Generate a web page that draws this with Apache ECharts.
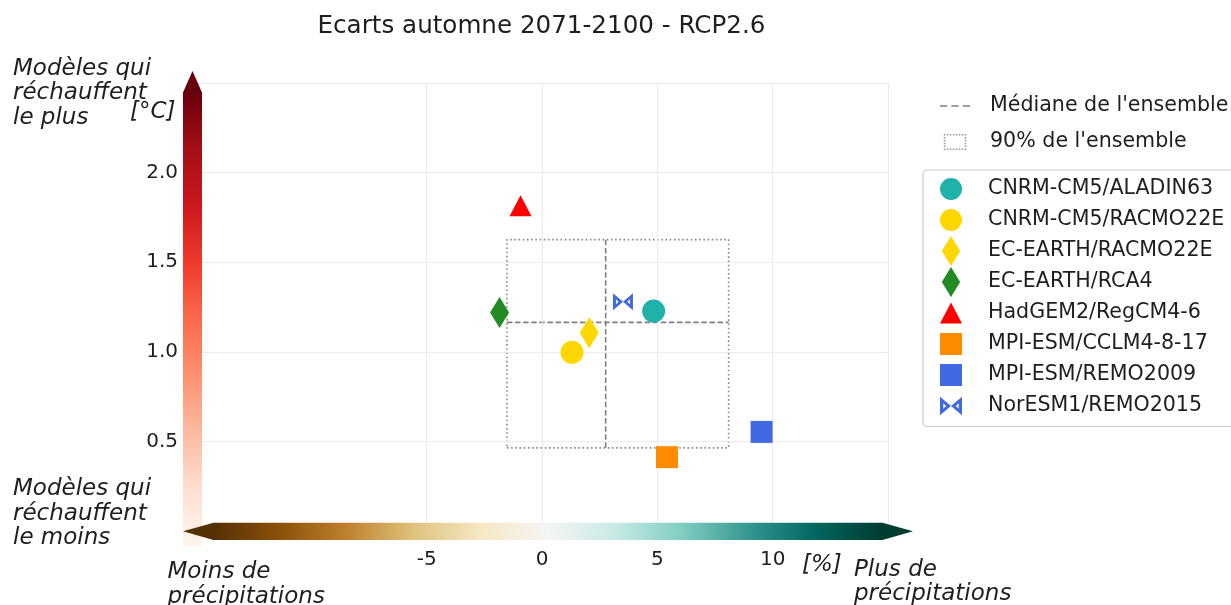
<!DOCTYPE html>
<html>
<head>
<meta charset="utf-8">
<script src="https://cdn.jsdelivr.net/npm/echarts@6/dist/echarts.min.js"></script>
<style>
  html, body { margin: 0; padding: 0; background: #ffffff; }
  #chart { width: 1231px; height: 605px; }
</style>
</head>
<body>
<div id="chart"></div>
<script>
// ---- Data -----------------------------------------------------------------
const modelNames = [
  'CNRM-CM5/ALADIN63',
  'CNRM-CM5/RACMO22E',
  'EC-EARTH/RACMO22E',
  'EC-EARTH/RCA4',
  'HadGEM2/RegCM4-6',
  'MPI-ESM/CCLM4-8-17',
  'MPI-ESM/REMO2009',
  'NorESM1/REMO2015'
];
// precipitation change [%] (x) and temperature change [°C] (y)
const precipChange = [4.84, 1.30, 2.05, -1.84, -0.93, 5.42, 9.52, 3.51];
const tempChange   = [1.227, 0.997, 1.107, 1.219, 1.815, 0.412, 0.553, 1.279];
const modelColors  = ['#20b2aa', '#ffd700', '#ffd700', '#228b22', '#ff0000', '#ff8c00', '#4169e1', '#4169e1'];
const modelShapes  = ['circle', 'circle', 'diamond', 'diamond', 'triangle', 'square', 'square', 'bowtie'];

// ensemble statistics: [precip, temp]
const ensembleMedian = [2.76, 1.164];
const ensembleLow    = [-1.52, 0.464];   // 5th percentile
const ensembleHigh   = [8.09, 1.626];    // 95th percentile

const medianLabel = 'Médiane de l\'ensemble';
const rangeLabel  = '90% de l\'ensemble';

const xTickLabels = [-5, 0, 5, 10];
const yTickLabels = [0.5, 1.0, 1.5, 2.0];
const xGridValues = [-5, 0, 5, 10, 15];
const yGridValues = [0.5, 1.0, 1.5, 2.0, 2.5];

// ---- Styling ----------------------------------------------------------------
const FONT = 'DejaVu Sans';
const TEXT_COLOR = '#1e1e1e';

const SHAPES = {
  circle:   { symbol: 'circle', size: 23 },
  diamond:  { symbol: 'path://M9.5,0L19,15.5L9.5,31L0,15.5Z', size: [19, 31] },
  triangle: { symbol: 'path://M11,0L22,21L0,21Z', size: [22, 21] },
  square:   { symbol: 'path://M0,0H22V22H0Z', size: 22 },
  bowtie:   { symbol: 'path://M0,0L10,8.5L0,17Z M3,6L3,11L5.6,8.5Z M20,0L20,17L10,8.5Z M17,6L14.4,8.5L17,11Z', size: [20, 17] }
};

// matplotlib "Reds" and "BrBG" colour maps
const REDS = ['#fff5f0', '#fee0d2', '#fcbba1', '#fc9272', '#fb6a4a', '#ef3b2c', '#cb181d', '#a50f15', '#67000d'];
const BRBG = ['#543005', '#8c510a', '#bf812d', '#dfc27d', '#f6e8c3', '#f5f5f5', '#c7eae5', '#80cdc1', '#35978f', '#01665e', '#003c30'];

function stops(colors) {
  return colors.map((c, i) => ({ offset: i / (colors.length - 1), color: c }));
}

// legend glyphs for the ensemble entries
const dashIcon = 'path://M0,0h7v1.6h-7z M11,0h7v1.6h-7z M22,0h7v1.6h-7z';
function dottedRectIcon(w, h, nx, ny, d) {
  let p = '';
  for (let i = 0; i < nx; i++) {
    const x = (i * (w - d) / (nx - 1)).toFixed(2);
    p += 'M' + x + ',0h' + d + 'v' + d + 'h-' + d + 'z ';
    p += 'M' + x + ',' + (h - d) + 'h' + d + 'v' + d + 'h-' + d + 'z ';
  }
  for (let j = 1; j < ny - 1; j++) {
    const y = (j * (h - d) / (ny - 1)).toFixed(2);
    p += 'M0,' + y + 'h' + d + 'v' + d + 'h-' + d + 'z ';
    p += 'M' + (w - d) + ',' + y + 'h' + d + 'v' + d + 'h-' + d + 'z ';
  }
  return 'path://' + p;
}

// ---- Layout -----------------------------------------------------------------
const GRID = { left: 196, top: 83, right: 888, bottom: 531 };
const VBAR = { x0: 183, x1: 202, top: 92, tip: 71, bottom: 547 };
const HBAR = { y0: 522.7, y1: 540, left: 213, right: 883, tipL: 183, tipR: 913 };

// ---- Series -----------------------------------------------------------------
const series = [];

// background grid lines
series.push({
  type: 'line',
  data: [],
  silent: true,
  z: 1,
  markLine: {
    silent: true,
    symbol: ['none', 'none'],
    label: { show: false },
    animation: false,
    lineStyle: { color: '#ebebeb', width: 1.2, type: 'solid' },
    emphasis: { disabled: true },
    data: xGridValues.map(v => ({ xAxis: v })).concat(yGridValues.map(v => ({ yAxis: v })))
  }
});

// ensemble 90% box
series.push({
  name: rangeLabel,
  type: 'line',
  symbol: 'none',
  z: 3,
  silent: true,
  color: '#888888',
  lineStyle: { color: '#888888', width: 1.6, type: [1.6, 2.6] },
  data: [
    [ensembleLow[0], ensembleLow[1]],
    [ensembleHigh[0], ensembleLow[1]],
    [ensembleHigh[0], ensembleHigh[1]],
    [ensembleLow[0], ensembleHigh[1]],
    [ensembleLow[0], ensembleLow[1]]
  ]
});

// ensemble medians (vertical and horizontal)
series.push({
  name: medianLabel,
  type: 'line',
  symbol: 'none',
  z: 3,
  silent: true,
  color: '#808080',
  lineStyle: { color: '#808080', width: 1.6, type: [5.5, 2.6] },
  data: [[ensembleMedian[0], ensembleLow[1]], [ensembleMedian[0], ensembleHigh[1]]]
});
series.push({
  name: medianLabel,
  type: 'line',
  symbol: 'none',
  z: 3,
  silent: true,
  color: '#808080',
  lineStyle: { color: '#808080', width: 1.6, type: [5.5, 2.6] },
  data: [[ensembleLow[0], ensembleMedian[1]], [ensembleHigh[0], ensembleMedian[1]]]
});

// models
modelNames.forEach((name, i) => {
  const shape = SHAPES[modelShapes[i]];
  series.push({
    name: name,
    type: 'scatter',
    z: 5,
    symbol: shape.symbol,
    symbolSize: shape.size,
    itemStyle: { color: modelColors[i], opacity: 1 },
    emphasis: { disabled: true },
    data: [[precipChange[i], tempChange[i]]]
  });
});

// ---- Decorations (colour bars, annotations, title) ---------------------------
const italic = { fontFamily: FONT, fontStyle: 'italic', fontSize: 23, fill: TEXT_COLOR, lineHeight: 24.5 };

const graphic = [
  // temperature colour bar (vertical)
  {
    type: 'rect', z: 50, silent: true,
    shape: { x: VBAR.x0, y: VBAR.top, width: VBAR.x1 - VBAR.x0, height: VBAR.bottom - VBAR.top },
    style: { fill: { type: 'linear', x: 0, y: 1, x2: 0, y2: 0, colorStops: stops(REDS) } }
  },
  {
    type: 'polygon', z: 50, silent: true,
    shape: { points: [[VBAR.x0, VBAR.top + 0.5], [VBAR.x1, VBAR.top + 0.5], [(VBAR.x0 + VBAR.x1) / 2, VBAR.tip]] },
    style: { fill: REDS[REDS.length - 1] }
  },
  // precipitation colour bar (horizontal)
  {
    type: 'rect', z: 51, silent: true,
    shape: { x: HBAR.left, y: HBAR.y0, width: HBAR.right - HBAR.left, height: HBAR.y1 - HBAR.y0 },
    style: { fill: { type: 'linear', x: 0, y: 0, x2: 1, y2: 0, colorStops: stops(BRBG) } }
  },
  {
    type: 'polygon', z: 51, silent: true,
    shape: { points: [[HBAR.left + 0.5, HBAR.y0], [HBAR.left + 0.5, HBAR.y1], [HBAR.tipL, (HBAR.y0 + HBAR.y1) / 2]] },
    style: { fill: BRBG[0] }
  },
  {
    type: 'polygon', z: 51, silent: true,
    shape: { points: [[HBAR.right - 0.5, HBAR.y0], [HBAR.right - 0.5, HBAR.y1], [HBAR.tipR, (HBAR.y0 + HBAR.y1) / 2]] },
    style: { fill: BRBG[BRBG.length - 1] }
  },
  // title
  {
    type: 'text', z: 60, x: 541.5, y: 27,
    style: { text: 'Ecarts automne 2071-2100 - RCP2.6', fontFamily: FONT, fontSize: 24.6, fill: TEXT_COLOR,
             textAlign: 'center', textVerticalAlign: 'middle' }
  },
  // axis annotations
  { type: 'text', z: 60, x: 13, y: 56.75,
    style: Object.assign({ text: 'Modèles qui\nréchauffent\nle plus', textVerticalAlign: 'top' }, italic) },
  { type: 'text', z: 60, x: 130, y: 112,
    style: Object.assign({ text: '[°C]', textVerticalAlign: 'middle' }, italic) },
  { type: 'text', z: 60, x: 13, y: 477,
    style: Object.assign({ text: 'Modèles qui\nréchauffent\nle moins', textVerticalAlign: 'top' }, italic) },
  { type: 'text', z: 60, x: 167.5, y: 560.25,
    style: Object.assign({ text: 'Moins de\nprécipitations', textVerticalAlign: 'top' }, italic) },
  { type: 'text', z: 60, x: 802, y: 565,
    style: Object.assign({ text: '[%]', textVerticalAlign: 'middle' }, italic) },
  { type: 'text', z: 60, x: 854, y: 557.5,
    style: Object.assign({ text: 'Plus de\nprécipitations', textVerticalAlign: 'top' }, italic) }
];

// ---- Chart ------------------------------------------------------------------
const chart = echarts.init(document.getElementById('chart'), null, { renderer: 'canvas' });

chart.setOption({
  animation: false,
  backgroundColor: '#ffffff',
  textStyle: { fontFamily: FONT },
  grid: {
    left: GRID.left,
    top: GRID.top,
    width: GRID.right - GRID.left,
    height: GRID.bottom - GRID.top,
    containLabel: false
  },
  xAxis: {
    type: 'value',
    min: -15, max: 15, interval: 5,
    axisLine: { show: false },
    axisTick: { show: false },
    splitLine: { show: false },
    axisLabel: {
      margin: 19,
      fontFamily: FONT, fontSize: 20, color: TEXT_COLOR,
      formatter: v => (xTickLabels.indexOf(v) >= 0 ? String(v) : '')
    }
  },
  yAxis: {
    type: 'value',
    min: 0, max: 2.5, interval: 0.5,
    axisLine: { show: false },
    axisTick: { show: false },
    splitLine: { show: false },
    axisLabel: {
      margin: 18,
      fontFamily: FONT, fontSize: 20, color: TEXT_COLOR,
      formatter: v => (yTickLabels.some(t => Math.abs(t - v) < 1e-9) ? v.toFixed(1) : '')
    }
  },
  legend: [
    {
      orient: 'vertical',
      left: 940, top: 88,
      padding: 0,
      itemWidth: 30, itemHeight: 16, itemGap: 0,
      selectedMode: false,
      textStyle: { fontFamily: FONT, fontSize: 20.6, color: TEXT_COLOR, lineHeight: 36, padding: [0, 0, 0, 15] },
      data: [
        { name: medianLabel, icon: dashIcon, itemStyle: { color: '#808080', borderWidth: 0 } },
        { name: rangeLabel, icon: dottedRectIcon(21, 15, 8, 6, 1.5), itemStyle: { color: '#999999', borderWidth: 0 } }
      ]
    },
    {
      orient: 'vertical',
      left: 923, top: 170,
      padding: [3.5, 60, 5, 17],
      itemWidth: 22, itemHeight: 30, itemGap: 0,
      borderColor: '#cccccc', borderWidth: 1.2, borderRadius: 4,
      selectedMode: false,
      textStyle: { fontFamily: FONT, fontSize: 20.6, color: TEXT_COLOR, lineHeight: 31, padding: [0, 0, 0, 21] },
      data: modelNames
    }
  ],
  graphic: graphic,
  series: series
});
</script>
</body>
</html>
